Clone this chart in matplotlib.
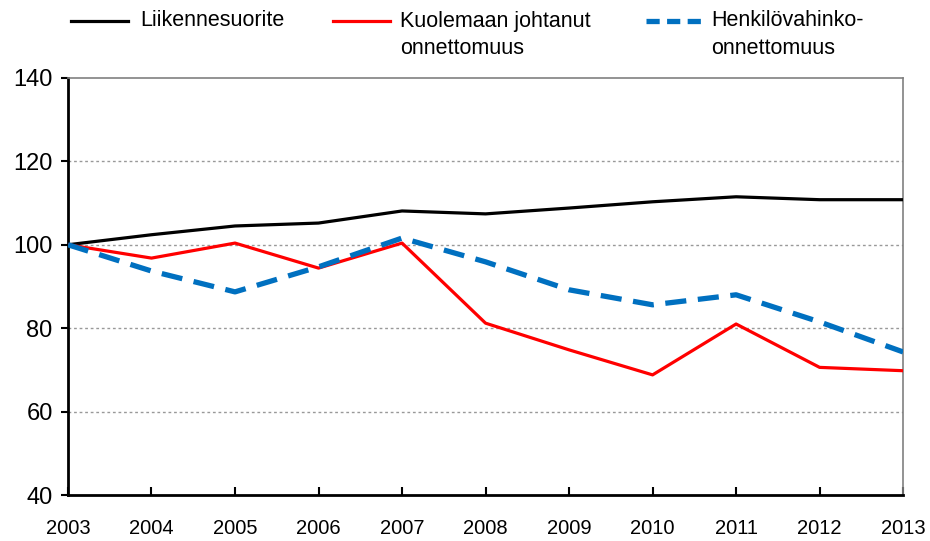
import numpy as np
import matplotlib.pyplot as plt
from matplotlib.lines import Line2D

plt.rcParams['font.family'] = ['Liberation Sans Narrow', 'Liberation Sans', 'DejaVu Sans']

# Vuodet ja indeksit (2003 = 100)
years = [2003, 2004, 2005, 2006, 2007, 2008, 2009, 2010, 2011, 2012, 2013]
liikennesuorite = [100, 102.4, 104.5, 105.2, 108.1, 107.4, 108.8, 110.3, 111.5, 110.8, 110.8]
kuolemaan = [100, 96.8, 100.4, 94.4, 100.4, 81.2, 74.8, 68.8, 81.0, 70.6, 69.8]
henkilovahinko = [100, 93.7, 88.7, 94.7, 101.6, 95.9, 89.2, 85.6, 88.0, 81.5, 74.3]
labels = ['Liikennesuorite', 'Kuolemaan johtanut\nonnettomuus', 'Henkilövahinko-\nonnettomuus']
yticks = [40, 60, 80, 100, 120, 140]

fig = plt.figure(figsize=(9.3, 5.41), dpi=100)
ax = fig.add_axes([0.0731, 0.085, 0.898, 0.771])

ax.plot(years, liikennesuorite, color='black', lw=2.3, zorder=3)
ax.plot(years, kuolemaan, color='#ff0000', lw=2.3, zorder=3)
ax.plot(years, henkilovahinko, color='#0070c0', lw=3.8, dashes=(4, 2.2), zorder=4)

ax.set_xlim(2003, 2013)
ax.set_ylim(40, 140)
ax.set_xticks(years)
ax.set_yticks(yticks)
for y in yticks[1:-1]:
    ax.axhline(y, color='#999999', lw=1, ls=(0, (2, 2)), zorder=1)

ax.tick_params(axis='x', direction='in', length=6, width=1.5, pad=17, labelsize=14.5)
ax.tick_params(axis='y', direction='out', length=5, width=1.5, pad=6, labelsize=17)
ax.spines['left'].set_linewidth(2)
ax.spines['bottom'].set_linewidth(2)
ax.spines['top'].set_color('#808080')
ax.spines['right'].set_color('#808080')
ax.spines['top'].set_linewidth(1.2)
ax.spines['right'].set_linewidth(1.2)

# legenda yläreunaan
cols = ['black', '#ff0000', '#0070c0']
hx = [71, 333, 646]
tx = [140, 400, 711]
for i in range(3):
    if i < 2:
        l = Line2D([hx[i] / 930, (hx[i] + 57) / 930], [1 - 21 / 541] * 2, transform=fig.transFigure,
                   color=cols[i], lw=2.3)
    else:
        l = Line2D([hx[i] / 930, (hx[i] + 57) / 930], [1 - 21 / 541] * 2, transform=fig.transFigure,
                   color=cols[i], lw=3.8, dashes=(2.5, 1.4))
    fig.add_artist(l)
    fig.text(tx[i] / 930, 1 - 21 / 541, labels[i].split('\n')[0], ha='left', va='center', fontsize=15.5)
    if '\n' in labels[i]:
        fig.text(tx[i] / 930, 1 - 48 / 541, labels[i].split('\n')[1], ha='left', va='center', fontsize=15.5)

fig.savefig('out.png', dpi=100)
